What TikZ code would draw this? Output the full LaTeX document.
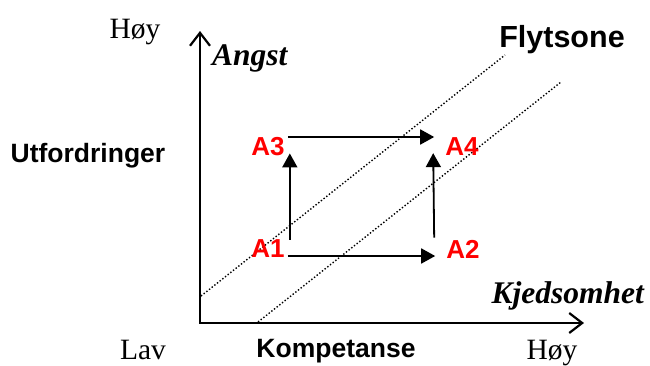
\documentclass[tikz,border=0pt]{standalone}
\usepackage{fontspec}
\setmainfont{Liberation Serif}
\newfontfamily\arialfont{Liberation Sans}
\usetikzlibrary{arrows.meta, positioning, calc}
\definecolor{labelred}{HTML}{FF0000}

\begin{document}
\begin{tikzpicture}[x=1pt, y=-1pt,
    axis/.style={line width=2.2pt, line join=miter,
      {Straight Barb[length=13pt,width=20pt]}-{Straight Barb[length=13pt,width=20pt]}},
    flow/.style={line width=1.8pt, -{Triangle[length=14pt,width=15pt]}},
    zone/.style={line width=1.4pt, dotted},
    alabel/.style={text=labelred, font=\arialfont\bfseries\fontsize{26}{28}\selectfont, inner sep=3pt},
    sanslabel/.style={font=\arialfont\bfseries\fontsize{26.5}{29}\selectfont, inner sep=0pt},
    seriflabel/.style={font=\fontsize{29.5}{33}\selectfont, inner sep=0pt},
    axislabel/.style={font=\bfseries\itshape\fontsize{31.5}{35}\selectfont, inner sep=0pt}]
  \useasboundingbox (0,0) rectangle (650,365);

  % axes
  \coordinate (origin) at (200,323);
  \coordinate (ytop) at (200,31);
  \coordinate (xend) at (584,323);
  \draw[axis] (ytop) -- (origin) -- (xend);

  % flow zone
  \coordinate (zoneAs) at (201,296);
  \coordinate (zoneAe) at (505,55);
  \coordinate (zoneBs) at (258,322);
  \coordinate (zoneBe) at (561,82);
  \draw[zone] (zoneAs) -- (zoneAe);
  \draw[zone] (zoneBs) -- (zoneBe);

  % texts
  \node[seriflabel, anchor=base] (highy) at (135,38) {Høy};
  \node[axislabel, anchor=base west] (angst) at (212,65) {Angst};
  \node[sanslabel, font=\arialfont\bfseries\fontsize{30.5}{33}\selectfont, anchor=base] (flyt) at (562,47) {Flytsone};
  \node[sanslabel, anchor=base] (utf) at (88,162) {Utfordringer};
  \node[axislabel, anchor=base east] (kjed) at (644,303) {Kjedsomhet};
  \node[seriflabel, anchor=base] (lav) at (143,359) {Lav};
  \node[sanslabel, anchor=base] (komp) at (336,357) {Kompetanse};
  \node[seriflabel, anchor=base] (highx) at (552,359) {Høy};

  % stages
  \node[alabel] (a1) at (268,249) {A1};
  \node[alabel] (a2) at (463,249) {A2};
  \node[alabel] (a3) at (268,147) {A3};
  \node[alabel] (a4) at (462,147) {A4};

  \draw[flow] ([yshift=-7pt]a1.east) -- ([yshift=-7pt,xshift=-8pt]a2.west);
  \draw[flow] ([yshift=10pt]a3.east) -- ([yshift=10pt,xshift=-8pt]a4.west);
  \draw[flow] ([xshift=2pt,yshift=-3pt]a1.north east) -- ([xshift=2pt,yshift=6pt]a3.south east);
  \draw[flow] ([xshift=-9pt,yshift=-1pt]a2.north west) -- ([xshift=-9pt,yshift=6pt]a4.south west);
\end{tikzpicture}
\end{document}
